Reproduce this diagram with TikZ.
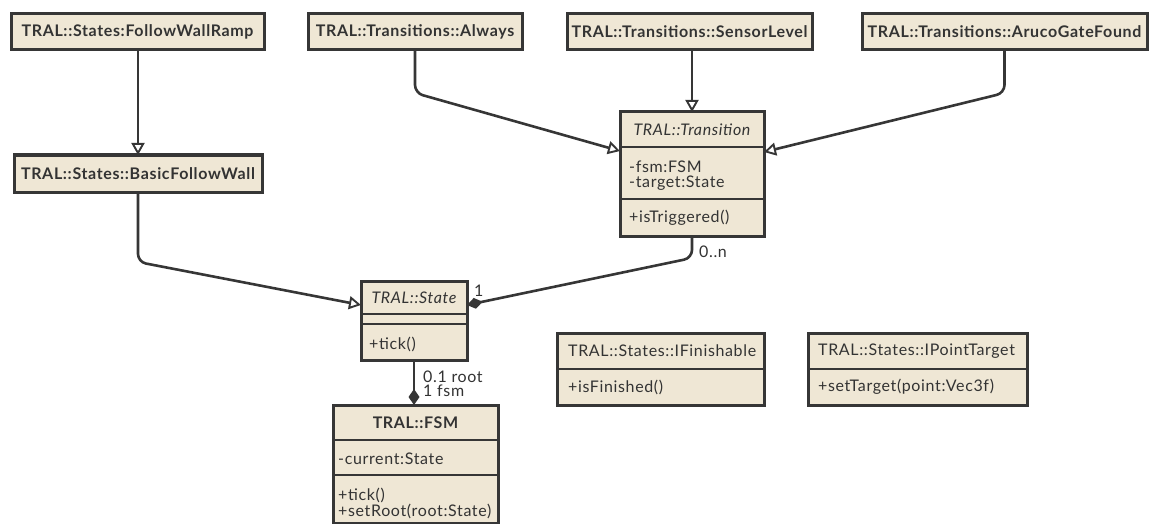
\documentclass[tikz,border=0pt]{standalone}
\usepackage{fontspec}
\setmainfont{Lato}[LetterSpace=4.0]
\usetikzlibrary{arrows.meta,calc}
\definecolor{boxfill}{HTML}{EFE7D5}
\definecolor{boxline}{HTML}{363636}
\definecolor{txt}{HTML}{333333}
\begin{document}
\begin{tikzpicture}[x=1pt,y=-1pt,
  umlbox/.style={draw=boxline, fill=boxfill, line width=3pt, inner sep=0pt, outer sep=0pt, anchor=north west, text=txt, font=\fontsize{16}{18}\selectfont},
  headb/.style={font=\fontsize{16}{18}\selectfont\bfseries},
  sep/.style={draw=boxline, line width=2.8pt},
  member/.style={anchor=west, inner sep=0pt, text=txt, font=\fontsize{16}{18}\selectfont},
  lbl/.style={anchor=west, inner sep=0pt, text=txt, font=\fontsize{16}{18}\selectfont},
  gen/.style={draw=boxline, line width=2.6pt, rounded corners=8pt, -{Triangle[open,length=12pt,width=13pt,line width=1.9pt]}},
  comp/.style={draw=boxline, line width=2.6pt, rounded corners=8pt, -{Diamond[length=16pt,width=11pt]}}
]
\useasboundingbox (0,0) rectangle (1151,524);
% top row
\node[umlbox, headb, minimum width=253pt, minimum height=36pt] (fwr) at (11,14) {TRAL::States:FollowWallRamp};
\node[umlbox, headb, minimum width=248pt, minimum height=37pt] (bfw) at (14,155) {TRAL::States::BasicFollowWall};
\node[umlbox, headb, minimum width=214pt, minimum height=36pt] (alw) at (308,14) {TRAL::Transitions::Always};
\node[umlbox, headb, minimum width=245pt, minimum height=36pt] (sen) at (567,14) {TRAL::Transitions::SensorLevel};
\node[umlbox, headb, minimum width=285pt, minimum height=36pt] (aru) at (862,14) {TRAL::Transitions::ArucoGateFound};
% Transition
\node[umlbox, minimum width=144pt, minimum height=124pt] (tr) at (620,112) {};
\draw[sep] (tr.west |- 0,147) -- (tr.east |- 0,147);
\draw[sep] (tr.west |- 0,199) -- (tr.east |- 0,199);
\node[inner sep=0pt, text=txt, font=\fontsize{16}{18}\selectfont\itshape] (trn) at (692,129.5) {TRAL::Transition};
\node[member] (tra1) at (629,167) {-fsm:FSM};
\node[member] (tra2) at (629,183) {-target:State};
\node[member] (trm1) at (629,218) {+isTriggered()};
% State
\node[umlbox, minimum width=106pt, minimum height=79pt] (st) at (361,281) {};
\draw[sep] (st.west |- 0,314) -- (st.east |- 0,314);
\draw[sep] (st.west |- 0,324) -- (st.east |- 0,324);
\node[inner sep=0pt, text=txt, font=\fontsize{16}{18}\selectfont\itshape] (stn) at (414,297.5) {TRAL::State};
\node[member] (stm1) at (369,344) {+tick()};
% FSM
\node[umlbox, minimum width=165pt, minimum height=118pt] (fsm) at (333,405) {};
\draw[sep] (fsm.west |- 0,440) -- (fsm.east |- 0,440);
\draw[sep] (fsm.west |- 0,475) -- (fsm.east |- 0,475);
\node[inner sep=0pt, text=txt, font=\fontsize{16}{18}\selectfont\bfseries] (fsmn) at (415.5,422.5) {TRAL::FSM};
\node[member] (fsma1) at (338,459) {-current:State};
\node[member] (fsmm1) at (338,495) {+tick()};
\node[member] (fsmm2) at (338,511) {+setRoot(root:State)};
% interfaces
\node[umlbox, minimum width=207pt, minimum height=72pt] (ifin) at (557,333) {};
\draw[sep] (ifin.west |- 0,369) -- (ifin.east |- 0,369);
\node[member] (ifinn) at (568,351) {TRAL::States::IFinishable};
\node[member] (ifinm) at (568,387) {+isFinished()};
\node[umlbox, minimum width=219pt, minimum height=72pt] (ipt) at (808,333) {};
\draw[sep] (ipt.west |- 0,369) -- (ipt.east |- 0,369);
\node[member] (iptn) at (818,351) {TRAL::States::IPointTarget};
\node[member] (iptm) at (818,387) {+setTarget(point:Vec3f)};
% connectors
\draw[gen] (bfw.north |- fwr.south) -- (bfw.north);
\draw[gen] (alw.south) -- ++(0,43) -- (tr.west |- 0,151);
\draw[gen] (tr.north |- sen.south) -- (tr.north);
\draw[gen] (aru.south) -- ++(0,43) -- (tr.east |- 0,152);
\draw[gen] (bfw.south) -- ++(0,70) -- (st.west |- 0,305);
\draw[comp] (tr.south) -- ++(0,22) -- (st.east |- 0,305);
\draw[comp] (st.south) -- (st.south |- fsm.north);
% labels
\node[lbl] (l0n) at (699,252) {0..n};
\node[lbl] (l1) at (474,291) {1};
\node[lbl] (lroot) at (423,377) {0.1 root};
\node[lbl] (lfsm) at (423,391) {1 fsm};
\end{tikzpicture}
\end{document}
